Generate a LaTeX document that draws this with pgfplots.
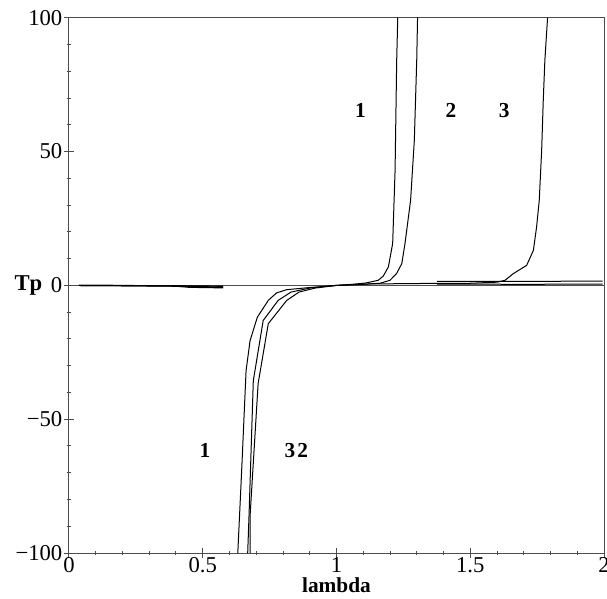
\documentclass[border=0pt]{standalone}
\usepackage{pgfplots}
\pgfplotsset{compat=1.18}
\usepackage{fontspec}
\setmainfont{Liberation Serif}
\begin{document}
\begin{tikzpicture}
\begin{axis}[
    name=ax,
    scale only axis,
    width=401.25pt, height=401.5pt,
    xmin=0, xmax=2, ymin=-100, ymax=100,
    axis lines=box,
    axis line style={black!70, line width=0.75pt},
    tick pos=left,
    tick align=center,
    tick style={black!70, line width=0.75pt},
    major tick length=7pt,
    minor tick length=3.5pt,
    xtick={0,0.5,1,1.5,2},
    xticklabels={0,0.5,1,1.5,2},
    ytick={-100,-50,0,50,100},
    yticklabels={−100,−50,0,50,100},
    minor x tick num=4,
    minor y tick num=4,
    font=\fontsize{17}{19}\selectfont,
    /pgf/number format/assume math mode=true,
    xticklabel style={yshift=3.5pt},
    yticklabel style={xshift=2pt},
    clip=true,
]
% zero line
\addplot[black!70, line width=0.6pt] coordinates {(0,0)(2,0)};
% left branches (near zero)
\addplot[black, line width=0.9pt] coordinates {(0.037,0)(0.2,-0.1)(0.4,-0.3)(0.45,-0.7)(0.576,-0.9)};
\addplot[black, line width=0.9pt] coordinates {(0.037,0)(0.2,-0.1)(0.415,-0.2)(0.5,-0.5)(0.576,-0.7)};
\addplot[black, line width=0.9pt] coordinates {(0.037,0)(0.3,-0.1)(0.576,-0.3)};
% curve 1
\addplot[black, line width=0.75pt] coordinates {(0.631,-100)(0.646,-68)(0.662,-31.8)(0.677,-20.6)(0.704,-11.9)(0.745,-5.6)(0.776,-2.8)(0.814,-1.6)(0.889,-0.9)(0.95,-0.4)(1.0,0)(1.06,0.4)(1.11,0.9)(1.156,1.9)(1.175,3.5)(1.194,6.9)(1.210,15.7)(1.219,43)(1.225,84)(1.229,100)};
% curve 3
\addplot[black, line width=0.75pt] coordinates {(0.668,-100)(0.673,-86)(0.689,-35.6)(0.726,-13.1)(0.782,-5.6)(0.83,-2.5)(0.9,-1.0)(0.97,-0.3)(1.0,0)(1.1,0.5)(1.3,0.7)(1.5,0.8)(1.6,1.2)(1.63,1.9)(1.661,4.4)(1.711,7.5)(1.736,13.1)(1.748,21.8)(1.758,31.8)(1.767,50.6)(1.773,69.3)(1.779,84.2)(1.789,100)};
% curve 2
\addplot[black, line width=0.75pt] coordinates {(0.677,-100)(0.677,-86)(0.707,-36.7)(0.745,-14.3)(0.814,-5.6)(0.86,-2.5)(0.92,-1)(1.0,0)(1.1,0.4)(1.163,0.8)(1.2,1.9)(1.225,4.5)(1.244,8.1)(1.256,15.6)(1.277,31.8)(1.291,54.3)(1.300,84.4)(1.303,100)};
% branches after the poles
\addplot[black, line width=0.75pt] coordinates {(1.375,1.5)(1.7,1.5)(1.995,1.6)};
\addplot[black, line width=0.75pt] coordinates {(1.375,0.5)(1.7,0.4)(1.995,0.5)};
% curve labels
\node[font=\fontsize{16}{18}\selectfont\bfseries] at (axis cs:1.09,65.5) {1};
\node[font=\fontsize{16}{18}\selectfont\bfseries] at (axis cs:1.428,65.5) {2};
\node[font=\fontsize{16}{18}\selectfont\bfseries] at (axis cs:1.627,65.5) {3};
\node[font=\fontsize{16}{18}\selectfont\bfseries] at (axis cs:0.508,-61.8) {1};
\node[font=\fontsize{16}{18}\selectfont\bfseries] at (axis cs:0.826,-61.8) {3};
\node[font=\fontsize{16}{18}\selectfont\bfseries] at (axis cs:0.874,-61.8) {2};
\end{axis}
\node[font=\fontsize{17}{19}\selectfont\bfseries, anchor=east] at ([xshift=-16.5pt]ax.west) {Tp};
\node[font=\fontsize{16}{18}\selectfont\bfseries, anchor=base] at ([yshift=-29.5pt]ax.south) {lambda};
\pgfresetboundingbox
\path[use as bounding box] ([shift={(-51.75pt,-33.75pt)}]ax.south west) rectangle ([shift={(2.25pt,13.3pt)}]ax.north east);
\end{tikzpicture}
\end{document}
